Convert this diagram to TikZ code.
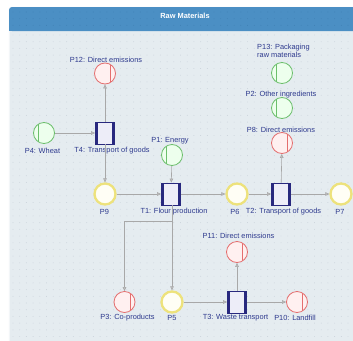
\documentclass[tikz,border=0pt]{standalone}
\usepackage{fontspec}
\setmainfont{Liberation Sans}
\usetikzlibrary{arrows.meta}
\definecolor{barblue}{HTML}{4B8FC4}
\definecolor{bodybg}{HTML}{E5ECF0}
\definecolor{dotc}{HTML}{C9D2DA}
\definecolor{bardot}{HTML}{3F80B4}
\definecolor{txtblue}{HTML}{2E3A8E}
\definecolor{navy}{HTML}{28287E}
\definecolor{tfill}{HTML}{EDEDF8}
\definecolor{ylw}{HTML}{EDE27C}
\definecolor{grn}{HTML}{6CBF6C}
\definecolor{rd}{HTML}{E46E6E}
\definecolor{arrgray}{HTML}{A8A8A8}
\begin{document}
\begin{tikzpicture}[x=1pt,y=-1pt,
  lab/.style={font=\fontsize{7.4}{8.4}\selectfont, text=txtblue, inner sep=0pt},
  place/.style={circle, minimum size=21pt, inner sep=0pt},
  yplace/.style={place, draw=ylw, line width=2.3pt, fill=white!96!yellow},
  gplace/.style={place, draw=grn, line width=0.8pt, fill=white!93!green,
     path picture={\draw[grn, line width=0.8pt] ([xshift=-5.5pt]path picture bounding box.north) -- ([xshift=-5.5pt]path picture bounding box.south);}},
  rplace/.style={place, draw=rd, line width=0.8pt, fill=white!94!red,
     path picture={\draw[rd, line width=0.8pt] ([xshift=5.5pt]path picture bounding box.north) -- ([xshift=5.5pt]path picture bounding box.south);}},
  trans/.style={rectangle, minimum width=19pt, minimum height=22pt, inner sep=0pt, draw=navy, line width=0.8pt, fill=tfill,
     path picture={\draw[navy, line width=5pt] (path picture bounding box.north west) -- (path picture bounding box.south west);
                   \draw[navy, line width=5pt] (path picture bounding box.north east) -- (path picture bounding box.south east);}},
  arr/.style={draw=arrgray, line width=0.6pt, -{Triangle[length=4pt,width=3.6pt,fill=arrgray!70]}}
]
\useasboundingbox (0,0) rectangle (353,340);
\clip (0,0) rectangle (353,340);
\fill[white] (0,0) rectangle (353,340);
% panel
\fill[bodybg, draw=white!85!bodybg, line width=1pt, rounded corners=3pt] (9,7) rectangle (370,360);
\fill[barblue, rounded corners=3pt] (9,7) rectangle (370,31);
\fill[barblue] (9,20) rectangle (370,31);
\foreach \i in {0,...,52}{
  \foreach \j in {0,...,49}{
    \fill[dotc] (13+\i*6.7, 35+\j*6.7) circle (0.45pt);
  }
  \foreach \j in {0,...,2}{
    \fill[bardot] (13+\i*6.7, 12+\j*6.7) circle (0.45pt);
  }
}
\node[font=\bfseries\fontsize{7.4}{8.4}\selectfont, text=white, inner sep=0pt] (title) at (185,16) {Raw Materials};

% places and transitions
\node[rplace] (P12) at (105,73.5) {};
\node[gplace] (P13) at (282,73) {};
\node[gplace] (P2) at (282,108) {};
\node[gplace] (P4) at (44,133) {};
\node[trans] (T4) at (105,133) {};
\node[gplace] (P1) at (172,155) {};
\node[rplace] (P8) at (282,143) {};
\node[yplace] (P9) at (105,194) {};
\node[trans] (T1) at (171,194) {};
\node[yplace] (P6) at (237,194) {};
\node[trans] (T2) at (281,194) {};
\node[yplace] (P7) at (341,194) {};
\node[rplace] (P11) at (237,252) {};
\node[rplace] (P3) at (124.5,302) {};
\node[yplace] (P5) at (172,302) {};
\node[trans] (T3) at (237,302) {};
\node[rplace] (P10) at (297,302) {};

% labels
\node[lab] (lP12) at (106,60) {P12: Direct emissions};
\node[lab, align=left, anchor=north west] (lP13) at (257,44) {P13: Packaging\\raw materials};
\node[lab] (lP2) at (281,95) {P2: Other ingredients};
\node[lab] (lP4) at (42.5,150.5) {P4: Wheat};
\node[lab] (lT4) at (112,150.5) {T4: Transport of goods};
\node[lab] (lP1) at (170,141) {P1: Energy};
\node[lab] (lP8) at (281,130) {P8: Direct emissions};
\node[lab] (lP9) at (104.5,211.5) {P9};
\node[lab] (lT1) at (174,211.5) {T1: Flour production};
\node[lab] (lP6) at (235,211.5) {P6};
\node[lab] (lT2) at (283.5,211.5) {T2: Transport of goods};
\node[lab] (lP7) at (340,211.5) {P7};
\node[lab] (lP11) at (238.5,236) {P11: Direct emissions};
\node[lab] (lP3) at (127.5,317.5) {P3: Co-products};
\node[lab] (lP5) at (172,317.5) {P5};
\node[lab] (lT3) at (235.5,317.5) {T3: Waste transport};
\node[lab] (lP10) at (295,317.5) {P10: Landfill};

% arcs
\coordinate (j) at (124.5,221);
\draw[arr] (P4) -- (T4);
\draw[arr] (T4) -- (P12);
\draw[arr] (T4) -- (P9);
\draw[arr] (P9) -- (T1);
\draw[arr] (P1) -- (T1);
\draw[arr] (T1) -- (P6);
\draw[arr] (P6) -- (T2);
\draw[arr] (T2) -- (P8);
\draw[arr] (T2) -- (P7);
\draw[arr] (T1.south -| P5) -- (P5);
\draw[arr] (T1.south -| P5) |- (j) -- (P3);
\draw[arr] (P5) -- (T3);
\draw[arr] (T3) -- (P11);
\draw[arr] (T3) -- (P10);
\end{tikzpicture}
\end{document}
